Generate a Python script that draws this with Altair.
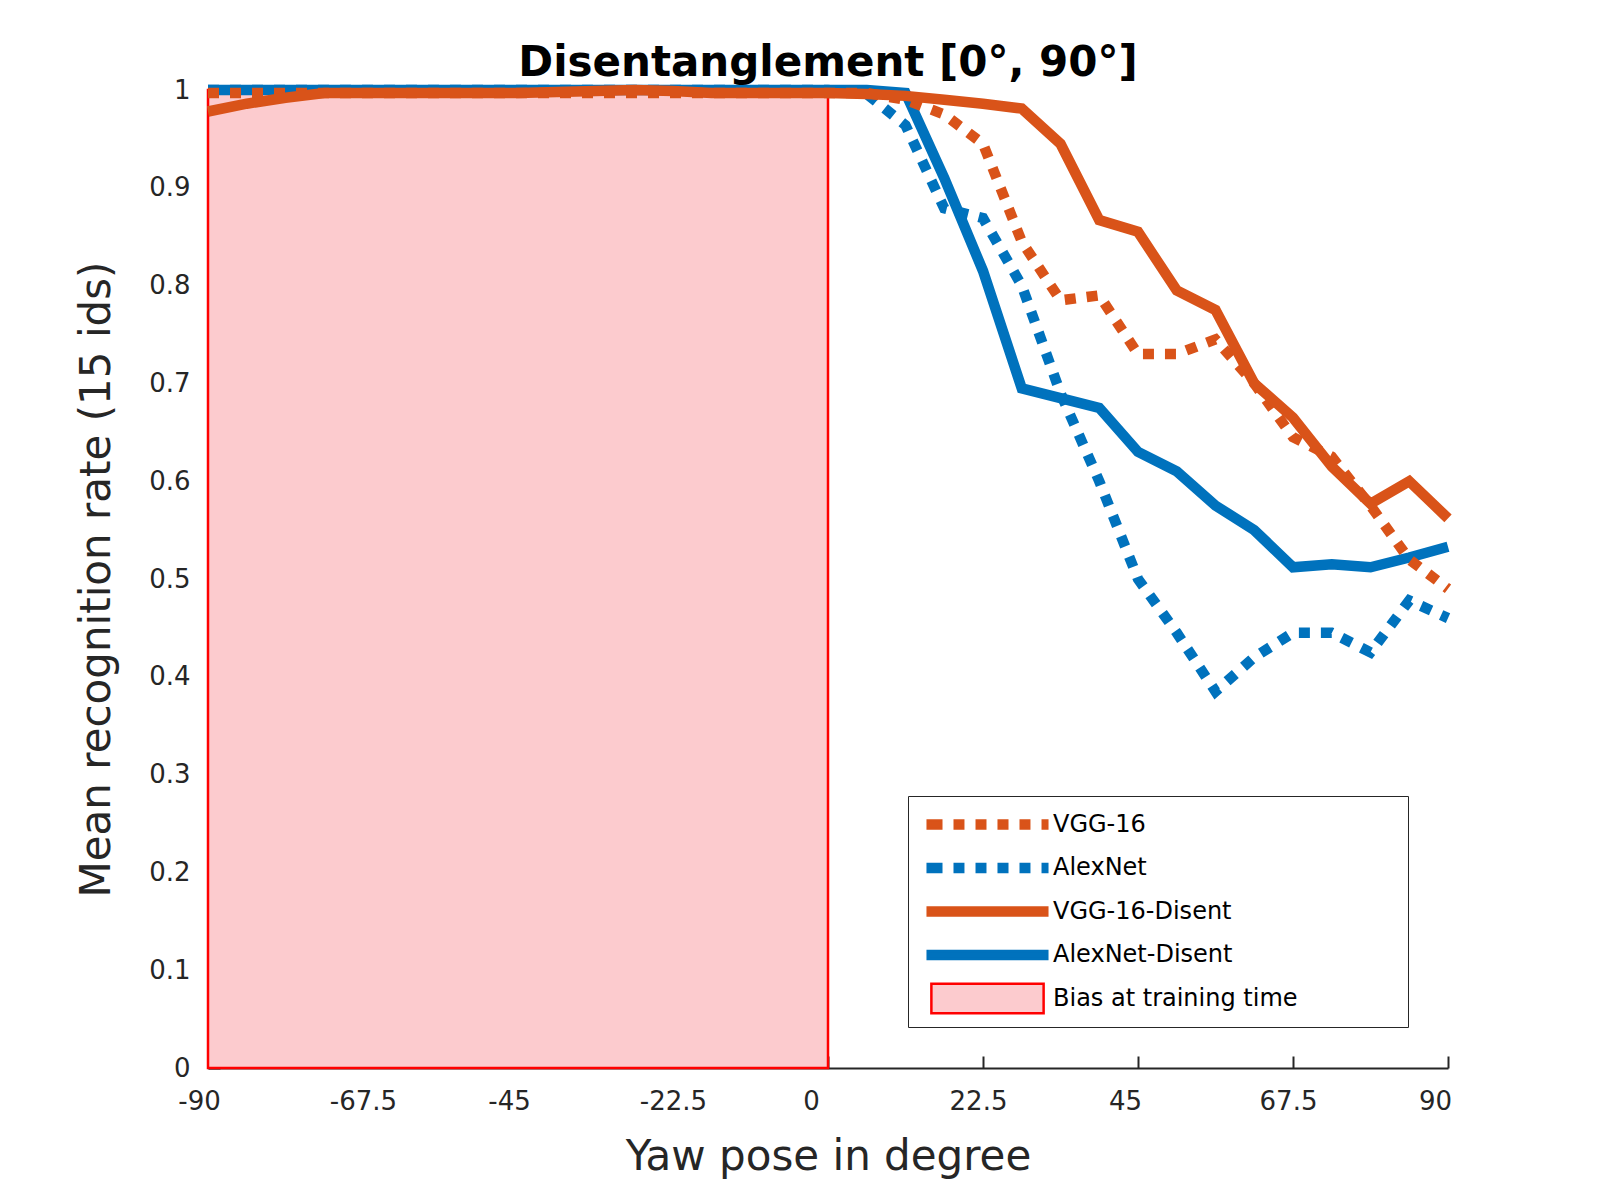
import altair as alt
import pandas as pd

# ---------------- data ----------------
yaw = [-90, -84.375, -78.75, -73.125, -67.5, -61.875, -56.25, -50.625, -45,
       -39.375, -33.75, -28.125, -22.5, -16.875, -11.25, -5.625, 0,
       5.625, 11.25, 16.875, 22.5, 28.125, 33.75, 39.375, 45,
       50.625, 56.25, 61.875, 67.5, 73.125, 78.75, 84.375, 90]

vgg16 = [0.997, 0.997, 0.997, 0.997, 0.997, 0.997, 0.997, 0.997, 0.997,
         0.997, 0.997, 0.997, 0.997, 0.997, 0.997, 0.997, 0.997,
         0.997, 0.990, 0.975, 0.945, 0.845, 0.785, 0.790, 0.730,
         0.730, 0.745, 0.700, 0.645, 0.625, 0.575, 0.520, 0.490]

alexnet = [1.0, 1.0, 1.0, 1.0, 1.0, 1.0, 1.0, 1.0, 1.0,
           1.0, 1.0, 1.0, 1.0, 1.0, 1.0, 1.0, 1.0,
           0.996, 0.964, 0.879, 0.869, 0.800, 0.690, 0.600, 0.500,
           0.445, 0.385, 0.420, 0.445, 0.445, 0.425, 0.478, 0.460]

vgg16_disent = [0.978, 0.986, 0.992, 0.997, 0.997, 0.997, 0.997, 0.997, 0.997,
                0.998, 0.999, 1.0, 0.999, 0.997, 0.997, 0.997, 0.997,
                0.996, 0.994, 0.990, 0.986, 0.981, 0.945, 0.867, 0.855,
                0.795, 0.775, 0.700, 0.665, 0.615, 0.577, 0.600, 0.562]

alexnet_disent = [1.0, 1.0, 1.0, 1.0, 1.0, 1.0, 1.0, 1.0, 1.0,
                  1.0, 1.0, 1.0, 1.0, 1.0, 1.0, 1.0, 1.0,
                  1.0, 0.997, 0.910, 0.815, 0.695, 0.685, 0.675, 0.630,
                  0.610, 0.575, 0.550, 0.512, 0.515, 0.512, 0.522, 0.533]

series_names = ["VGG-16", "AlexNet", "VGG-16-Disent", "AlexNet-Disent", "Bias at training time"]
stroke_colors = ["#D95319", "#0072BD", "#D95319", "#0072BD", "#FF0000"]
fill_colors = ["#D95319", "#0072BD", "#D95319", "#0072BD", "#FCCBCE"]

# legend symbol glyphs (unit square paths): dotted bar, solid bar, framed box
DOTTED = ("M-0.980,-0.066H-0.758V0.066H-0.980Z M-0.537,-0.066H-0.398V0.066H-0.537Z "
          "M-0.176,-0.066H-0.037V0.066H-0.176Z M0.184,-0.066H0.324V0.066H0.184Z "
          "M0.545,-0.066H0.684V0.066H0.545Z M0.906,-0.066H0.980V0.066H0.906Z")
SOLID = "M-0.980,-0.066H0.980V0.066H-0.980Z"
BOX = "M-0.92,-0.242H0.92V0.242H-0.92Z"
shapes = [DOTTED, DOTTED, SOLID, SOLID, BOX]

line_styles = {  # name: (colour, dotted?)
    "AlexNet": ("#0072BD", True),
    "AlexNet-Disent": ("#0072BD", False),
    "VGG-16": ("#D95319", True),
    "VGG-16-Disent": ("#D95319", False),
}

bias_start, bias_end = -90, 0

x_ticks = [-90, -67.5, -45, -22.5, 0, 22.5, 45, 67.5, 90]
y_ticks = [0, 0.1, 0.2, 0.3, 0.4, 0.5, 0.6, 0.7, 0.8, 0.9, 1]

# ---------------- tables ----------------
rows = []
for name, vals in [("VGG-16", vgg16), ("AlexNet", alexnet),
                   ("VGG-16-Disent", vgg16_disent), ("AlexNet-Disent", alexnet_disent)]:
    for xv, yv in zip(yaw, vals):
        rows.append({"series": name, "yaw": xv, "rate": yv})
df = pd.DataFrame(rows)
bias_df = pd.DataFrame([{"start": bias_start, "end": bias_end, "low": 0, "high": 1}])

AX = "#262626"
FONT = "DejaVu Sans"

x_scale = alt.Scale(domain=[-90, 90], nice=False, zero=False)
y_scale = alt.Scale(domain=[0, 1], nice=False)

x_axis = alt.Axis(
    values=x_ticks, labelExpr="'' + datum.value", grid=False,
    domainColor=AX, domainWidth=2, tickColor=AX, tickWidth=2,
    tickSize={"expr": "-12"},
    labelFont=FONT, labelFontSize=26, labelColor=AX, labelPadding=32,
    labelOffset={"condition": [
        {"test": "datum.value === 0", "value": -17},
        {"test": "datum.value === -90 || datum.value === -45", "value": -9},
        {"test": "datum.value === 45 || datum.value === 90", "value": -13},
        {"test": "datum.value === 22.5 || datum.value === 67.5", "value": -5}],
        "value": 0},
    titleFont=FONT, titleFontSize=42, titleColor=AX, titleFontWeight="normal",
    titlePadding=22, labelFlush=False, labelOverlap=False,
)
y_axis = alt.Axis(
    values=y_ticks, labelExpr="'' + datum.value", grid=False,
    domainColor=AX, domainWidth=2, tickColor=AX, tickWidth=2,
    tickSize={"expr": "-12"},
    labelFont=FONT, labelFontSize=26, labelColor=AX, labelPadding=30,
    titleFont=FONT, titleFontSize=42, titleColor=AX, titleFontWeight="normal",
    titlePadding=30, labelFlush=False, labelOverlap=False,
)

XT = "Yaw pose in degree"
YT = "Mean recognition rate (15 ids)"

legend = alt.Legend(
    orient="none", legendX=700, legendY=706,
    title=" ", titleOrient="right", titleColor="transparent", titleFontSize=2, titlePadding=99,
    symbolSize=14884, symbolStrokeWidth=2.5,
    clipHeight=34, rowPadding=9.5, padding=11.5, symbolOffset=5.5,
    labelOffset=3, labelFontSize=24, labelFont=FONT, labelColor="black",
    labelLimit=600, strokeColor=AX, fillColor="white", cornerRadius=0,
    symbolOpacity=1,
)

stroke_enc = alt.Stroke("series:N", scale=alt.Scale(domain=series_names, range=stroke_colors), legend=legend)
fill_enc = alt.Fill("series:N", scale=alt.Scale(domain=series_names, range=fill_colors), legend=legend)
shape_enc = alt.Shape("series:N", scale=alt.Scale(domain=series_names, range=shapes), legend=legend)

rect = alt.Chart(bias_df).mark_rect(fill="#FCCBCE", stroke="#FF0000", strokeWidth=2.5).encode(
    x=alt.X("start:Q", scale=x_scale, axis=x_axis, title=XT),
    x2="end:Q",
    y=alt.Y("low:Q", scale=y_scale, axis=y_axis, title=YT),
    y2="high:Q",
)

# legend-only layer (no rows pass the filter): carries the legend of all five entries
legend_layer = alt.Chart(df).transform_filter(alt.datum.series == "none").mark_point(
    opacity=1, filled=False, strokeWidth=2.5
).encode(
    x=alt.X("yaw:Q", scale=x_scale, axis=x_axis, title=XT),
    y=alt.Y("rate:Q", scale=y_scale, axis=y_axis, title=YT),
    stroke=stroke_enc, fill=fill_enc, shape=shape_enc,
)

layers = [rect, legend_layer]
for name in ["AlexNet", "AlexNet-Disent", "VGG-16", "VGG-16-Disent"]:
    col, dotted = line_styles[name]
    kw = dict(stroke=col, strokeWidth=10.5, strokeCap="butt", strokeJoin="miter", clip=False)
    if dotted:
        kw["strokeDash"] = [11, 11]
    layer = alt.Chart(df).transform_filter(alt.datum.series == name).mark_line(**kw).encode(
        x=alt.X("yaw:Q", scale=x_scale, axis=x_axis, title=XT),
        y=alt.Y("rate:Q", scale=y_scale, axis=y_axis, title=YT),
    )
    layers.append(layer)

chart = alt.layer(*layers).properties(
    width=1240, height=978,
    title=alt.Title("Disentanglement [0°, 90°]", font=FONT, fontSize=42, fontWeight="bold",
                    color="black", anchor="middle", frame="group", baseline="bottom", offset=5, dy=63),
    padding={"left": 200, "top": 82, "right": 144, "bottom": 124},
    autosize=alt.AutoSizeParams(type="none"),
    background="white",
).configure_view(strokeWidth=0)

chart.save("out.html", embed_options={"renderer": "svg", "actions": False})
